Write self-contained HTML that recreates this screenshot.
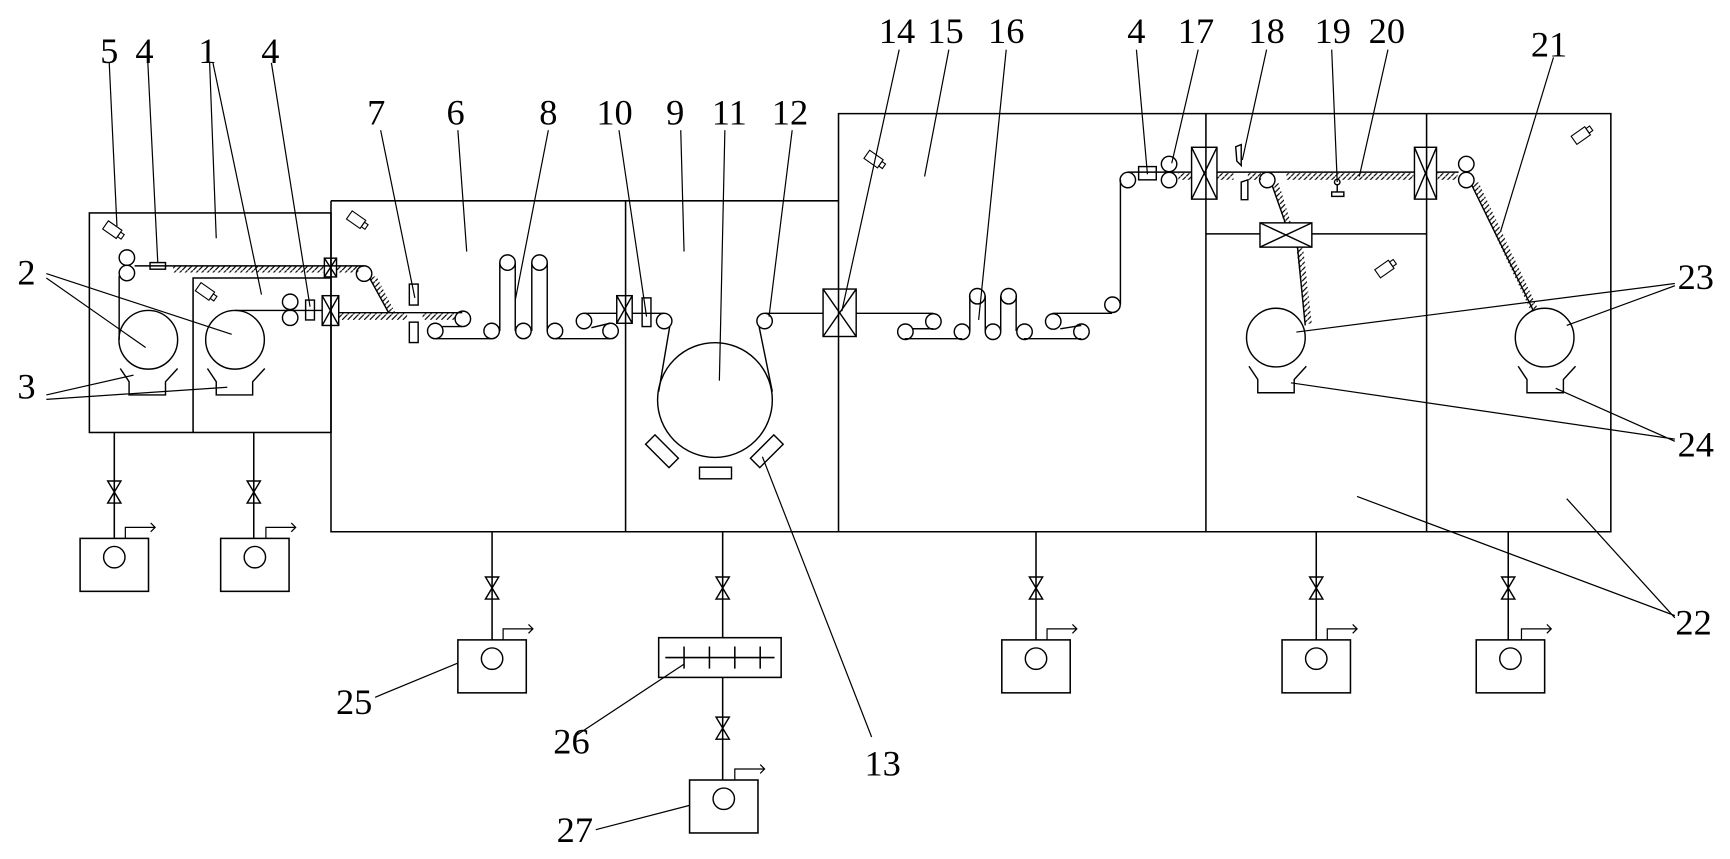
<!DOCTYPE html>
<html><head><meta charset="utf-8"><style>
html,body{margin:0;padding:0;background:#fff;}
svg{display:block;}
text{font-family:"Liberation Serif",serif;font-size:33px;fill:#000;}
</style></head><body>
<svg width="1730" height="859" viewBox="0 0 1568 778.6" preserveAspectRatio="none" xmlns="http://www.w3.org/2000/svg">
<defs>
<pattern id="h" patternUnits="userSpaceOnUse" width="5" height="5"><line x1="0" y1="5" x2="5" y2="0" stroke="#000" stroke-width="1.1"/></pattern>
<g id="cam"><rect x="-9" y="-4.5" width="15" height="9" fill="none" stroke="#000" stroke-width="1"/><rect x="6" y="-2.5" width="4" height="5" fill="none" stroke="#000" stroke-width="1"/></g>
<g id="valve"><path d="M-6,-10 L6,-10 L-6,10 L6,10 Z" fill="none" stroke="#000" stroke-width="1.3"/></g>
<g id="pump"><rect x="-31" y="0" width="62" height="48" fill="#fff" stroke="#000" stroke-width="1.4"/><circle cx="0" cy="17" r="9.7" fill="none" stroke="#000" stroke-width="1.3"/><path d="M10,0 V-10 H37 M33,-14 L37,-10 L33,-6" fill="none" stroke="#000" stroke-width="1.1"/></g>
</defs>
<g fill="none" stroke="#000" stroke-width="1.4">
<rect x="81" y="193" width="219" height="199"/>
<path d="M175,392 V252 H300"/>
<path d="M300,182 H760 M300,182 V482 H1460 V103 H760 V482 M567,182 V482 M1093,103 V482 M1293,103 V482 M1093,212 H1142 M1189,212 H1293"/>
<path d="M103.6,392 V488 M230,392 V488"/>
</g>
<use href="#valve" x="103.6" y="446"/><use href="#valve" x="230" y="446"/>
<use href="#pump" x="103.6" y="488"/><use href="#pump" x="231" y="488"/>
<g fill="none" stroke="#000" stroke-width="1.4">
<path d="M446,482 V580 M655,482 V578 M655,614 V707 M939,482 V580 M1193,482 V580 M1367,482 V580"/>
<rect x="597" y="578" width="111" height="36"/>
<path d="M603,596 H702 M620,586 V606 M643,586 V606 M666,586 V606 M689,586 V606"/>
</g>
<use href="#valve" x="446" y="533"/><use href="#valve" x="655" y="533"/><use href="#valve" x="939" y="533"/><use href="#valve" x="1193" y="533"/><use href="#valve" x="1367" y="533"/><use href="#valve" x="655" y="660"/>
<use href="#pump" x="446" y="580"/><use href="#pump" x="939" y="580"/><use href="#pump" x="1193" y="580"/><use href="#pump" x="1369" y="580"/><use href="#pump" x="656" y="707"/>
<use href="#cam" transform="translate(103,209) rotate(35)"/>
<use href="#cam" transform="translate(324,200) rotate(35)"/>
<use href="#cam" transform="translate(187,265) rotate(35)"/>
<use href="#cam" transform="translate(793,145) rotate(35)"/>
<use href="#cam" transform="translate(1434,122) rotate(-35)"/>
<use href="#cam" transform="translate(1256,243) rotate(-35)"/>
<g fill="url(#h)" stroke="none">
<rect x="157" y="241" width="136" height="6"/>
<rect x="305" y="241" width="20" height="6"/>
<polygon points="335,252 341,250 358,283 352,283"/>
<rect x="307" y="284" width="62" height="6"/>
<rect x="383" y="284" width="30" height="6"/>
<rect x="1068" y="157" width="12" height="6"/>
<rect x="1103" y="157" width="15" height="6"/>
<rect x="1131" y="157" width="12" height="6"/>
<rect x="1166" y="157" width="115" height="6"/>
<rect x="1303" y="157" width="18" height="6"/>
<polygon points="1153,168 1159,166 1170,202 1164,202"/>
<polygon points="1175,224 1181,224 1189,293 1183,294"/>
<polygon points="1334,168 1340,165 1394,280 1388,283"/>
</g>
<g fill="none" stroke="#000" stroke-width="1.3">
<circle cx="115" cy="233.5" r="7"/><circle cx="115" cy="247.5" r="7"/>
<rect x="136" y="238" width="14" height="6"/>
<path d="M122,241 H330"/>
<rect x="294" y="234" width="11" height="17"/><path d="M294,234 L305,251 M305,234 L294,251"/>
<circle cx="330" cy="248" r="7"/>
<path d="M335,252 L352,283"/>
<path d="M108,250 V308"/>
<circle cx="134.4" cy="308" r="26.6"/><circle cx="213" cy="308" r="26.6"/>
<path d="M213,281.4 H292"/>
<circle cx="263" cy="273.6" r="7"/><circle cx="263" cy="288" r="7"/>
<rect x="277" y="272" width="8" height="18"/>
<rect x="292" y="268" width="15" height="27"/><path d="M292,268 L307,295 M307,268 L292,295"/>
<path d="M109,334 L117,346 V358 H150 V346 L161,334"/>
<path d="M188,334 L196,346 V358 H229 V346 L240,334"/>
<path d="M307,283.4 H419"/>
<rect x="371" y="257.5" width="8" height="19"/><rect x="371" y="292" width="8" height="18.5"/>
<circle cx="394.5" cy="300" r="7"/><circle cx="419.5" cy="289" r="7"/>
<path d="M394,307 H446 M453,300 V238 M467,238 V300 M482,300 V238 M496,238 V300 M503,307 H553 M401,296 L419,296"/>
<circle cx="445.6" cy="300" r="7"/><circle cx="460" cy="238" r="7"/><circle cx="474.4" cy="300" r="7"/><circle cx="489" cy="238" r="7"/><circle cx="503" cy="300" r="7"/>
<circle cx="529.3" cy="291" r="7"/><circle cx="553.4" cy="300" r="7"/>
<path d="M529,284 H559 M536,297 L553,293"/>
<rect x="559" y="268" width="14" height="25"/><path d="M559,268 L573,293 M573,268 L559,293"/>
<path d="M573,284 H602"/>
<rect x="582" y="270" width="8" height="26"/>
<circle cx="602" cy="291" r="7"/><circle cx="693" cy="291" r="7"/>
<circle cx="648" cy="362.6" r="52"/>
<path d="M607,296 L597,355 M688,296 L700,355 M693,284 H746"/>
<rect x="634" y="423.5" width="29" height="10.5"/>
<rect x="-15" y="-6" width="30" height="12" transform="translate(600,409) rotate(45)"/>
<rect x="-15" y="-6" width="30" height="12" transform="translate(695,409) rotate(-45)"/>
<rect x="746" y="262" width="30" height="43"/><path d="M746,262 L776,305 M776,262 L746,305"/>
<path d="M776,284 H846"/>
<circle cx="820.6" cy="300.7" r="7"/><circle cx="846" cy="291.4" r="7"/><circle cx="871.9" cy="300.7" r="7"/><circle cx="885.8" cy="268.5" r="7"/><circle cx="900" cy="300.7" r="7"/><circle cx="914.2" cy="268.5" r="7"/><circle cx="928.6" cy="300.7" r="7"/><circle cx="954.6" cy="291.4" r="7"/><circle cx="980.2" cy="300.7" r="7"/><circle cx="1008.3" cy="276.2" r="7"/><circle cx="1022.2" cy="163.2" r="7"/>
<path d="M820,307 H872 M879,300 V268 M893,268 V300 M907,300 V268 M921,268 V300 M928,307 H980 M827,298 L846,298 M954,284 H1008 M961,298 L980,295 M1015.5,276 V163 M1022,156 H1080"/>
<rect x="1032" y="151" width="16" height="12"/>
<circle cx="1059.6" cy="148.7" r="7"/><circle cx="1059.6" cy="163.2" r="7"/>
<rect x="1080" y="133.5" width="23" height="47"/><path d="M1080,133.5 L1103,180.5 M1103,133.5 L1080,180.5"/>
<path d="M1103,156 H1282"/>
<path d="M1120,133 L1125,131 L1125,150 L1121,146 Z"/>
<path d="M1125,165 L1131,163 V181 H1125 Z"/>
<circle cx="1148.6" cy="163.2" r="7"/>
<circle cx="1212" cy="165" r="2.5"/><path d="M1212,167 V174"/><rect x="1207" y="174" width="11" height="4"/>
<rect x="1142" y="202" width="47" height="22"/><path d="M1142,202 L1189,224 M1189,202 L1142,224"/>
<path d="M1153,168 L1165,202 M1176,224 L1183,295"/>
<circle cx="1156.4" cy="306" r="26.6"/>
<path d="M1132,332 L1140,344 V356 H1173 V344 L1184,332"/>
<rect x="1282" y="133.5" width="20" height="47"/><path d="M1282,133.5 L1302,180.5 M1302,133.5 L1282,180.5"/>
<path d="M1302,156 H1322"/>
<circle cx="1329" cy="148.7" r="7"/><circle cx="1329" cy="163.2" r="7"/>
<path d="M1334,168 L1390,282"/>
<circle cx="1400" cy="306" r="26.6"/>
<path d="M1376,332 L1384,344 V356 H1417 V344 L1428,332"/>
</g>
<g fill="none" stroke="#000" stroke-width="1.1">
<path d="M99,57 L106,205 M134,57 L143,238 M190,57 L196,216 M193,57 L237,267 M246,57 L281,278"/>
<path d="M345,118 L376,270 M415,118 L423,228 M497,118 L467,272 M561,118 L586,287 M617,118 L620,228 M657,118 L652,345 M718,118 L697,287"/>
<path d="M815,45 L763,282 M860,45 L838,160 M912,45 L887,290 M1030,45 L1040,158 M1086,45 L1062,148 M1148,45 L1126,145 M1207,45 L1212,165 M1258,45 L1232,160 M1408,52 L1360,210"/>
<path d="M1518,257 L1175,301 M1518,259 L1420,295 M1518,398 L1170,347 M1518,400 L1410,352 M1518,558 L1230,450 M1518,560 L1420,452"/>
<path d="M42,252 L132,315 M42,248 L210,303 M42,358 L121,340 M42,362 L206,351"/>
<path d="M790,668 L691,414 M340,632 L415,601 M520,668 L620,602 M540,752 L625,730"/>
</g>
<g text-anchor="middle">
<text x="99" y="57">5</text><text x="131" y="57">4</text><text x="188" y="57">1</text><text x="245" y="57">4</text>
<text x="341" y="113">7</text><text x="413" y="113">6</text><text x="497" y="113">8</text><text x="557" y="113">10</text><text x="612" y="113">9</text><text x="661" y="113">11</text><text x="716" y="113">12</text>
<text x="813" y="39">14</text><text x="857" y="39">15</text><text x="912" y="39">16</text><text x="1030" y="39">4</text><text x="1084" y="39">17</text><text x="1148" y="39">18</text><text x="1208" y="39">19</text><text x="1257" y="39">20</text><text x="1404" y="51">21</text>
<text x="1537" y="262">23</text><text x="1537" y="414">24</text><text x="1535" y="575">22</text>
<text x="24" y="258">2</text><text x="24" y="361">3</text>
<text x="321" y="647">25</text><text x="518" y="683">26</text><text x="800" y="703">13</text><text x="521" y="763">27</text>
</g>
</svg>
</body></html>
